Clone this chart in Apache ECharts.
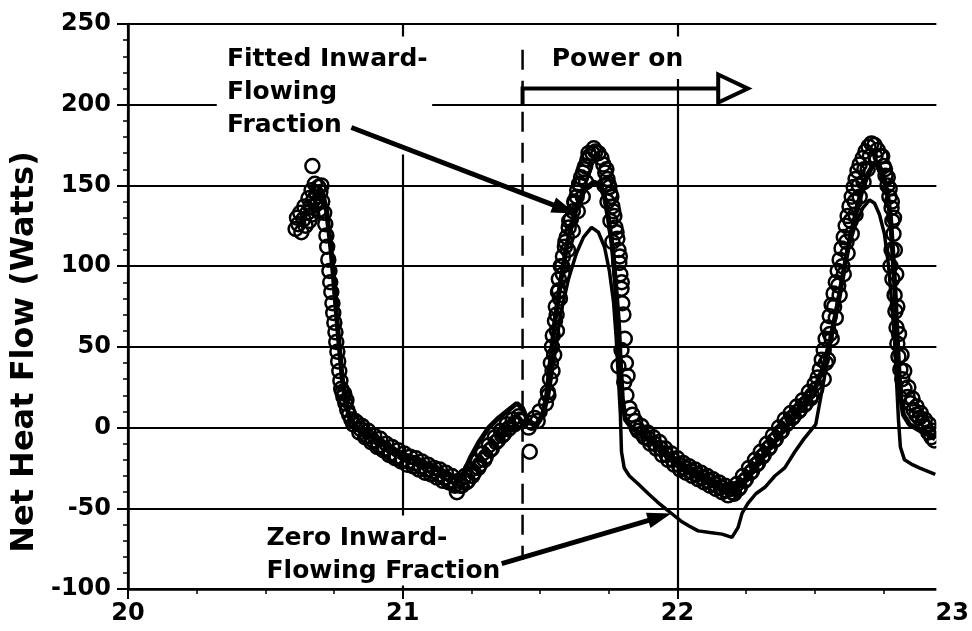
<!DOCTYPE html>
<html>
<head>
<meta charset="utf-8">
<script src="https://cdn.jsdelivr.net/npm/echarts@6/dist/echarts.min.js"></script>
<style>
html, body { margin: 0; padding: 0; background: #fff; }
#main { width: 972px; height: 631px; }
</style>
</head>
<body>
<div id="main"></div>
<script>
var xTicks = [20, 21, 22, 23];
var yTicks = [-100, -50, 0, 50, 100, 150, 200, 250];

// measured points (open circles)
var measured = [
  [20.610,123],[20.620,126],[20.631,121],[20.638,129],[20.646,125],[20.653,133],[20.660,128],[20.664,137],
  [20.671,132],[20.675,141],[20.682,138],[20.686,145],[20.693,149],[20.671,162],[20.700,146],[20.704,150],
  [20.615,130],[20.627,133],[20.642,137],[20.657,142],[20.668,147],[20.680,151],[20.690,140],[20.697,135],
  [20.707,140],[20.714,133],[20.718,126],[20.722,119],[20.725,112],[20.729,104],[20.733,97],[20.736,90],
  [20.740,84],[20.744,77],[20.747,71],[20.751,65],[20.755,59],[20.758,53],[20.762,47],[20.765,41],
  [20.769,35],[20.773,29],[20.776,24],[20.780,22],[20.784,19],[20.791,15],[20.798,11],[20.805,8],
  [20.813,5],[20.820,2],[20.827,4],[20.787,21],[20.795,17],
  [20.834,3],[20.842,-3],[20.852,1],[20.863,-6],[20.874,-2],[20.885,-9],[20.896,-5],[20.907,-12],
  [20.918,-7],[20.929,-14],[20.940,-10],[20.950,-17],[20.961,-12],[20.972,-19],[20.983,-14],[20.994,-21],
  [21.005,-16],[21.016,-23],[21.027,-18],[21.038,-24],[21.048,-19],[21.059,-26],[21.070,-21],[21.081,-28],
  [21.092,-23],[21.103,-29],[21.114,-25],[21.125,-31],[21.135,-26],[21.146,-33],[21.157,-28],[21.168,-34],
  [21.179,-30],[21.190,-36],[21.197,-40],[21.204,-33],[21.215,-36],[21.226,-30],[21.237,-33],[21.248,-26],
  [21.259,-28],[21.270,-21],[21.280,-23],[21.291,-16],[21.302,-18],[21.313,-11],[21.324,-13],[21.335,-6],
  [21.346,-8],[21.357,-2],[21.368,-4],[21.378,2],[21.389,0],[21.400,5],[21.411,3],[21.422,7],[21.433,4],
  [20.847,-1],[20.869,-5],[20.891,-8],[20.913,-11],[20.935,-13],[20.956,-16],[20.978,-18],[21.000,-20],
  [21.021,-21],[21.043,-22],[21.065,-24],[21.087,-26],[21.108,-27],[21.130,-29],[21.152,-31],[21.174,-33],
  [21.193,-35],[21.210,-36],[21.231,-34],[21.253,-30],[21.275,-25],[21.297,-20],[21.318,-14],[21.340,-9],
  [21.362,-5],[21.384,-1],[21.406,2],[21.428,5],
  [21.458,0],[21.462,-15],[21.469,3],[21.480,6],[21.491,4],[21.498,10],[21.521,15],[21.528,22],
  [21.536,30],[21.539,40],[21.543,50],[21.546,57],[21.554,66],[21.557,75],[21.565,84],[21.568,92],
  [21.575,100],[21.583,106],[21.590,112],[21.597,118],[21.604,124],[21.612,129],[21.619,134],[21.626,139],
  [21.633,143],[21.635,147],[21.642,151],[21.649,155],[21.656,158],[21.664,162],[21.672,166],[21.680,168],
  [21.690,170],[21.701,171],[21.712,170],[21.723,167],[21.730,163],[21.737,158],[21.745,154],[21.752,149],
  [21.759,143],[21.763,137],[21.770,131],[21.774,124],[21.781,117],[21.785,110],[21.788,102],[21.792,95],
  [21.796,86],[21.799,77],[21.796,48],[21.785,38],[21.806,28],[21.814,20],[21.825,12],[21.836,8],
  [21.561,60],[21.572,80],[21.583,95],[21.601,110],[21.619,122],[21.637,134],[21.655,143],[21.667,152],
  [21.734,150],[21.745,140],[21.756,128],[21.763,115],
  [21.530,20],[21.545,35],[21.551,45],[21.560,70],[21.568,85],[21.580,100],[21.592,115],[21.606,128],
  [21.624,140],[21.645,150],[21.660,160],[21.676,170],[21.695,173],
  [21.741,160],[21.748,151],[21.756,145],[21.766,134],[21.778,121],[21.790,106],[21.797,90],[21.803,70],
  [21.808,55],[21.812,40],[21.818,32],
  [21.846,4],[21.857,-2],[21.868,1],[21.879,-6],[21.890,-3],[21.901,-10],[21.912,-6],[21.923,-13],
  [21.934,-9],[21.944,-17],[21.955,-13],[21.966,-20],[21.977,-16],[21.988,-23],[21.999,-19],[22.010,-26],
  [22.021,-22],[22.031,-28],[22.042,-24],[22.053,-30],[22.064,-26],[22.075,-32],[22.086,-28],[22.097,-34],
  [22.108,-30],[22.118,-36],[22.129,-32],[22.140,-38],[22.151,-34],[22.162,-40],[22.173,-36],[22.184,-42],
  [22.195,-38],[22.206,-41],[22.216,-35],[22.227,-37],[22.238,-30],[22.249,-32],[22.260,-25],[22.271,-27],
  [22.282,-20],[22.293,-22],[22.303,-15],[22.314,-17],[22.325,-10],[22.336,-12],[22.347,-5],[22.358,-7],
  [22.369,0],[22.380,-2],[22.390,5],[22.401,3],[22.412,9],[22.423,7],[22.434,13],[22.445,11],
  [22.456,17],[22.467,15],[22.478,22],[22.489,20],[22.499,27],[22.510,31],[22.518,36],[22.525,42],
  [21.851,0],[21.873,-4],[21.895,-7],[21.917,-10],[21.939,-13],[21.961,-17],[21.983,-20],[22.004,-23],
  [22.026,-25],[22.048,-27],[22.070,-29],[22.091,-31],[22.113,-33],[22.135,-35],[22.157,-37],[22.178,-39],
  [22.200,-40],[22.222,-38],[22.244,-33],[22.266,-28],[22.287,-23],[22.309,-18],[22.331,-13],[22.352,-8],
  [22.374,-3],[22.396,2],[22.418,6],[22.440,10],[22.462,14],[22.484,18],[22.505,24],
  [22.532,48],[22.539,55],[22.547,62],[22.554,69],[22.561,76],[22.568,83],[22.576,90],[22.583,97],
  [22.590,104],[22.597,111],[22.605,118],[22.612,125],[22.619,131],[22.626,137],[22.634,143],[22.641,149],
  [22.648,154],[22.655,159],[22.663,163],[22.674,167],[22.684,171],[22.695,174],[22.706,176],[22.717,175],
  [22.728,172],[22.739,168],[22.750,162],[22.757,156],[22.764,150],[22.771,143],[22.779,136],[22.782,128],
  [22.786,120],[22.779,110],[22.775,100],[22.782,92],[22.790,82],[22.793,72],[22.797,62],[22.800,52],
  [22.804,44],[22.811,36],[22.818,30],[22.826,24],[22.837,19],[22.848,15],[22.859,11],[22.869,8],
  [22.880,6],[22.891,3],[22.902,0],[22.913,-3],[22.924,-6],[22.935,-8],
  [22.532,30],[22.547,42],[22.561,55],[22.576,68],[22.590,82],[22.605,95],[22.619,108],[22.634,120],
  [22.648,132],[22.663,143],[22.677,152],[22.692,160],
  [22.540,40],[22.555,58],[22.570,75],[22.585,88],[22.600,100],[22.615,115],[22.630,128],[22.645,140],
  [22.660,150],[22.680,160],[22.700,168],[22.720,168],
  [22.745,168],[22.755,160],[22.765,155],[22.772,148],[22.780,140],[22.788,130],[22.791,110],[22.796,95],
  [22.800,75],[22.806,58],[22.815,45],[22.825,35],[22.840,25],[22.855,18],[22.870,13],[22.885,9],
  [22.900,5],[22.915,2],[22.930,-2]
];

// fitted inward-flowing fraction
var fitted = [
  [20.689,148],[20.707,146],[20.722,135],[20.736,115],[20.747,95],[20.758,72],[20.769,50],[20.780,30],
  [20.791,17],[20.805,7],[20.827,1],[20.860,-3],[20.896,-7],[20.950,-13],[21.005,-17],[21.059,-21],
  [21.114,-25],[21.168,-29],[21.197,-32],[21.222,-28],[21.248,-18],[21.277,-9],[21.313,0],[21.349,6],
  [21.386,11],[21.415,15],[21.436,12],[21.458,3],[21.487,2],[21.509,8],[21.524,20],[21.538,42],
  [21.553,65],[21.574,90],[21.596,112],[21.618,128],[21.640,140],[21.665,148],[21.694,152],[21.716,151],
  [21.734,143],[21.748,130],[21.763,112],[21.774,90],[21.785,65],[21.792,40],[21.799,18],[21.810,5],
  [21.832,0],[21.875,-5],[21.930,-12],[22.002,-22],[22.075,-30],[22.140,-36],[22.195,-40],[22.227,-36],
  [22.264,-28],[22.311,-17],[22.365,-6],[22.419,5],[22.467,15],[22.503,25],[22.532,38],[22.557,55],
  [22.583,76],[22.605,97],[22.626,116],[22.648,132],[22.670,146],[22.692,157],[22.713,163],[22.732,163],
  [22.750,156],[22.764,145],[22.775,130],[22.782,112],[22.790,90],[22.797,65],[22.804,40],[22.811,20],
  [22.822,8],[22.844,2],[22.873,-1],[22.909,-4],[22.938,-7]
];

// zero inward-flowing fraction
var zeroFraction = [
  [21.436,12],[21.458,3],[21.487,2],[21.513,8],[21.531,20],[21.553,45],[21.574,70],[21.603,92],
  [21.632,108],[21.658,118],[21.687,124],[21.712,121],[21.734,112],[21.752,97],[21.767,78],[21.777,55],
  [21.785,30],[21.792,8],[21.796,-15],[21.806,-25],[21.825,-30],[21.857,-35],[21.894,-41],[21.926,-46],
  [21.955,-50],[21.984,-54],[22.013,-58],[22.042,-61],[22.075,-64],[22.118,-65],[22.162,-66],[22.198,-68],
  [22.220,-62],[22.235,-53],[22.256,-47],[22.285,-41],[22.318,-37],[22.354,-30],[22.390,-25],[22.427,-15],
  [22.460,-7],[22.503,2],[22.528,25],[22.554,50],[22.579,75],[22.601,95],[22.623,112],[22.648,126],
  [22.674,136],[22.699,141],[22.717,139],[22.735,132],[22.753,120],[22.768,100],[22.779,78],[22.790,54],
  [22.797,29],[22.804,5],[22.811,-12],[22.826,-20],[22.855,-23],[22.880,-25],[22.909,-27],[22.938,-29]
];

// annotations (data coordinates)
var powerOnX = 21.436;
var dashedSpan = [234, -82];
var powerPath = [[21.436, 200], [21.436, 210], [22.148, 210]];
var powerHead = [[22.148, 218.7], [22.256, 210], [22.148, 201.3]];
var fittedLabel = { text: 'Fitted Inward-\nFlowing\nFraction', at: [20.36, 238.5] };
var zeroLabel = { text: 'Zero Inward-\nFlowing Fraction', at: [20.504, -58.2] };
var powerLabel = { text: 'Power on', at: [21.542, 238.5] };
var fittedArrow = [[20.813, 185.9], [21.629, 132.6]];
var zeroArrow = [[21.36, -84.3], [21.977, -53.3]];
var fittedBox = [[20.323, 242.3], [21.107, 169.2]];
var powerBox = [[21.495, 242.3], [22.075, 216]];
var zeroBox = [[20.479, -54.5], [21.386, -97.9]];
var rightCut = [[22.942, 253], [23.2, -106.8]];

var font = 'DejaVu Sans';
var chart = echarts.init(document.getElementById('main'));

var option = {
  animation: false,
  grid: { left: 128, right: 17, top: 24, bottom: 42 },
  xAxis: {
    type: 'value', min: xTicks[0], max: xTicks[xTicks.length - 1], interval: 1,
    axisLine: { onZero: false, lineStyle: { color: '#000', width: 2.5 } },
    axisTick: { length: 10, lineStyle: { color: '#000', width: 2 } },
    minorTick: { show: true, splitNumber: 4, length: 5, lineStyle: { color: '#000', width: 1.5 } },
    splitLine: { show: true, showMaxLine: false, lineStyle: { color: '#000', width: 2.2 } },
    axisLabel: { color: '#000', fontFamily: font, fontWeight: 'bold', fontSize: 24, margin: 13 }
  },
  yAxis: {
    type: 'value', min: yTicks[0], max: yTicks[yTicks.length - 1], interval: 50,
    axisLine: { show: true, lineStyle: { color: '#000', width: 2.5 } },
    axisTick: { show: true, length: 11, lineStyle: { color: '#000', width: 2 } },
    minorTick: { show: true, splitNumber: 5, length: 5, lineStyle: { color: '#000', width: 1.5 } },
    splitLine: { show: true, lineStyle: { color: '#000', width: 2.2 } },
    axisLabel: { color: '#000', fontFamily: font, fontWeight: 'bold', fontSize: 24, margin: 17 }
  },
  series: [
    {
      name: 'measured', type: 'scatter', data: measured, symbol: 'circle', symbolSize: 14, z: 2,
      itemStyle: { color: 'rgba(0,0,0,0)', borderColor: '#000', borderWidth: 2.5, opacity: 1 }
    },
    {
      name: 'fitted', type: 'line', data: fitted, showSymbol: false, z: 3,
      lineStyle: { color: '#000', width: 5 }
    },
    {
      name: 'zero', type: 'line', data: zeroFraction, showSymbol: false, z: 3,
      lineStyle: { color: '#000', width: 3.5 }
    }
  ]
};
chart.setOption(option);

function p(d) { return chart.convertToPixel({ gridIndex: 0 }, d); }
function box(b) {
  var a = p(b[0]), c = p(b[1]);
  return { type: 'rect', z: 50, shape: { x: a[0], y: a[1], width: c[0] - a[0], height: c[1] - a[1] }, style: { fill: '#fff' } };
}
function label(l) {
  var a = p(l.at);
  return { type: 'text', z: 60, x: a[0], y: a[1], style: { text: l.text, fill: '#000', fontFamily: font, fontWeight: 'bold', fontSize: 25, lineHeight: 33, align: 'left', verticalAlign: 'top' } };
}
function arrow(ar) {
  var a = p(ar[0]), b = p(ar[1]);
  var dx = b[0] - a[0], dy = b[1] - a[1], len = Math.sqrt(dx * dx + dy * dy);
  var ux = dx / len, uy = dy / len, L = 24, W = 8;
  var base = [b[0] - ux * L, b[1] - uy * L];
  return [
    { type: 'line', z: 60, shape: { x1: a[0], y1: a[1], x2: base[0] + ux * 4, y2: base[1] + uy * 4 }, style: { stroke: '#000', lineWidth: 5 } },
    { type: 'polygon', z: 60, shape: { points: [b, [base[0] - uy * W, base[1] + ux * W], [base[0] + uy * W, base[1] - ux * W]] }, style: { fill: '#000' } }
  ];
}

var d0 = p([powerOnX, dashedSpan[0]]), d1 = p([powerOnX, dashedSpan[1]]);
var graphics = [
  box(rightCut), box(fittedBox), box(powerBox), box(zeroBox),
  label(fittedLabel), label(zeroLabel), label(powerLabel),
  { type: 'line', z: 55, shape: { x1: d0[0], y1: d0[1], x2: d1[0], y2: d1[1] }, style: { stroke: '#000', lineWidth: 2.5, lineDash: [20, 11] } },
  { type: 'polyline', z: 60, shape: { points: powerPath.map(p) }, style: { stroke: '#000', lineWidth: 4, fill: null } },
  { type: 'polygon', z: 60, shape: { points: powerHead.map(p) }, style: { fill: '#fff', stroke: '#000', lineWidth: 4 } },
  { type: 'text', z: 60, x: 25, y: 352, rotation: Math.PI / 2,
    style: { text: 'Net Heat Flow (Watts)', fill: '#000', fontFamily: font, fontWeight: 'bold', fontSize: 32, align: 'center', verticalAlign: 'middle' } }
].concat(arrow(fittedArrow), arrow(zeroArrow));

chart.setOption({ graphic: graphics });
</script>
</body>
</html>
